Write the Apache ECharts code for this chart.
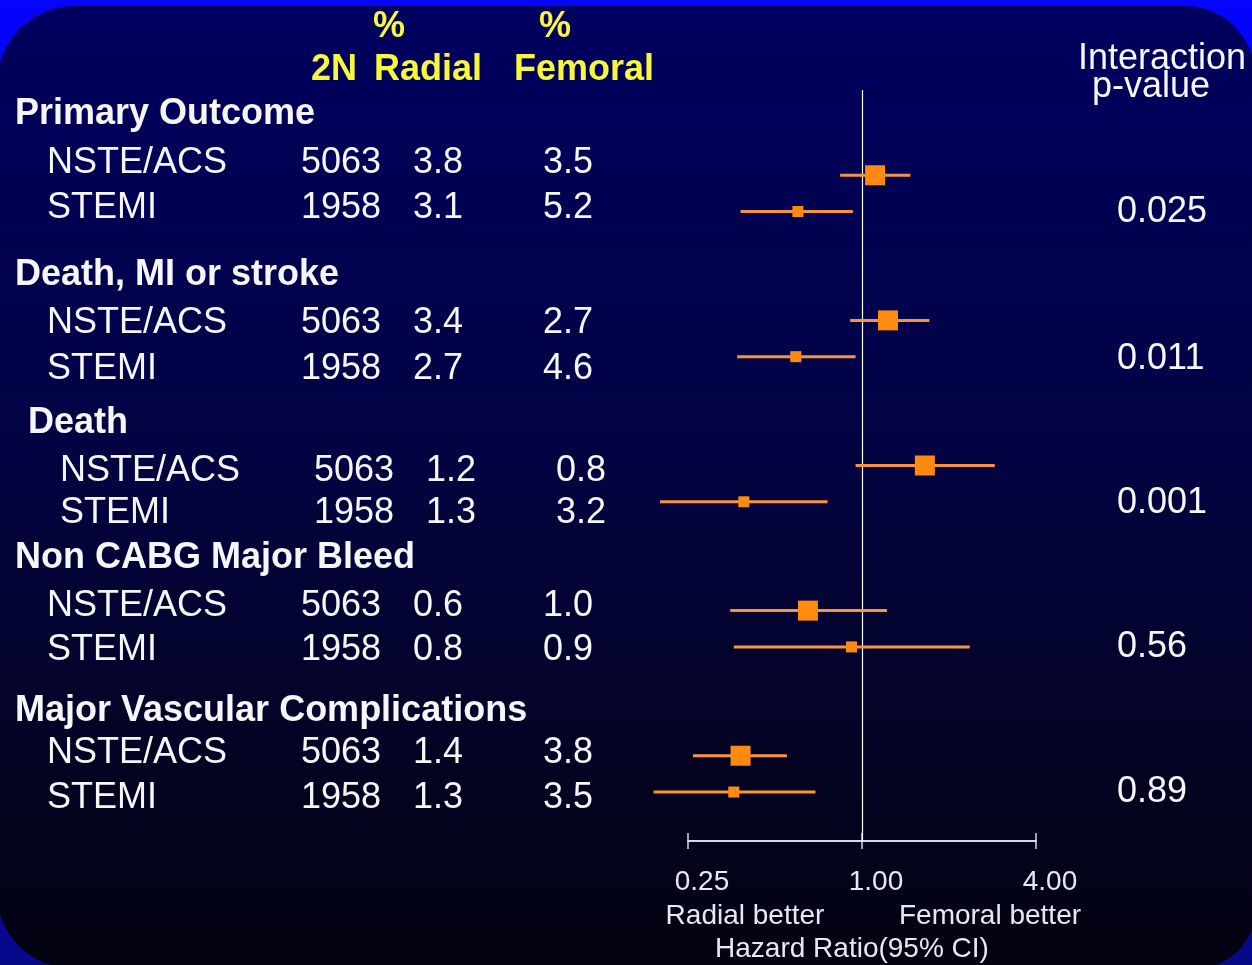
<!DOCTYPE html>
<html>
<head>
<meta charset="utf-8">
<title>Radial vs Femoral access – subgroup hazard ratios</title>
<script src="https://cdn.jsdelivr.net/npm/echarts@6/dist/echarts.min.js"></script>
<style>
  html, body { margin: 0; padding: 0; background: #0000ff; }
  #chart { width: 1252px; height: 965px; }
</style>
</head>
<body>
<div id="chart"></div>
<script>
// ---- data ----
const groups = ['Primary Outcome', 'Death, MI or stroke', 'Death', 'Non CABG Major Bleed', 'Major Vascular Complications'];
const subgroups = ['NSTE/ACS', 'STEMI'];
const nPatients = [5063, 1958];
const radialPct = [[3.8, 3.1], [3.4, 2.7], [1.2, 1.3], [0.6, 0.8], [1.4, 1.3]];
const femoralPct = [[3.5, 5.2], [2.7, 4.6], [0.8, 3.2], [1.0, 0.9], [3.8, 3.5]];
const hazardRatio = [[1.11, 0.60], [1.23, 0.59], [1.65, 0.39], [0.65, 0.92], [0.38, 0.36]];
const ciLower = [[0.84, 0.38], [0.91, 0.37], [0.95, 0.20], [0.35, 0.36], [0.26, 0.19]];
const ciUpper = [[1.47, 0.93], [1.71, 0.95], [2.88, 0.76], [1.22, 2.36], [0.55, 0.69]];
const pInteraction = ['0.025', '0.011', '0.001', '0.56', '0.89'];
const axisTicks = [0.25, 1, 4];

// ---- layout of the table text ----
const FONT = '"Liberation Sans", Arial, Helvetica, sans-serif';
const WHITE = '#f6f6f8';
const YELLOW = '#f8f83a';
const ORANGE = '#ff8a10';
const ORANGE_LINE = '#f8943c';
const AXIS_TEXT = '#e8e8f2';
const layout = {
  titleY: [114, 275, 423, 558, 711],
  rowY: [[163, 208], [323, 369], [471, 513], [606, 650], [753, 798]],
  indent: [0, 0, 13, 0, 0],
  pY: [212, 359, 503, 647, 792],
  titleX: 15, nameX: 47, nRight: 381, radialX: 413, femoralX: 543, pX: 1117
};
const markerSize = [20, 11];      // square side per subgroup
const slotsPerGroup = 4;          // vertical slots per outcome block

function txt(text, x, y, opts) {
  opts = opts || {};
  const align = opts.align || 'left';
  return {
    type: 'text', x: x, y: y, z: 20, silent: true,
    style: {
      text: text,
      fill: opts.color || WHITE,
      font: (opts.bold ? 'bold ' : '') + (opts.size || 36) + 'px ' + FONT,
      align: align, textAlign: align,
      verticalAlign: 'middle', textVerticalAlign: 'middle'
    }
  };
}

const graphics = [];
// outer frame and rounded panel
graphics.push({
  type: 'rect', z: -20, silent: true,
  shape: { x: 0, y: 0, width: 1252, height: 965 },
  style: { fill: new echarts.graphic.LinearGradient(0, 0, 0, 1, [
    { offset: 0, color: '#0404ff' }, { offset: 0.5, color: '#0606c4' }, { offset: 1, color: '#08088a' }
  ]) }
});
graphics.push({
  type: 'rect', z: -19, silent: true,
  shape: { x: -3, y: 6, width: 1258, height: 962, r: [78, 70, 58, 75] },
  style: { fill: new echarts.graphic.LinearGradient(0, 0, 0, 1, [
    { offset: 0, color: '#00005f' }, { offset: 0.45, color: '#030344' },
    { offset: 0.8, color: '#040322' }, { offset: 1, color: '#030311' }
  ]) }
});

// column headers
graphics.push(txt('%', 389, 27, { bold: true, color: YELLOW, align: 'center' }));
graphics.push(txt('%', 555, 27, { bold: true, color: YELLOW, align: 'center' }));
graphics.push(txt('2N', 311, 70, { bold: true, color: YELLOW }));
graphics.push(txt('Radial', 374, 70, { bold: true, color: YELLOW }));
graphics.push(txt('Femoral', 514, 70, { bold: true, color: YELLOW }));
graphics.push(txt('Interaction', 1078, 59));
graphics.push(txt('p-value', 1092, 87));

// table rows
groups.forEach(function (g, gi) {
  const dx = layout.indent[gi];
  graphics.push(txt(g, layout.titleX + dx, layout.titleY[gi], { bold: true }));
  subgroups.forEach(function (s, si) {
    const y = layout.rowY[gi][si];
    graphics.push(txt(s, layout.nameX + dx, y));
    graphics.push(txt(String(nPatients[si]), layout.nRight + dx, y, { align: 'right' }));
    graphics.push(txt(radialPct[gi][si].toFixed(1), layout.radialX + dx, y));
    graphics.push(txt(femoralPct[gi][si].toFixed(1), layout.femoralX + dx, y));
  });
  graphics.push(txt(pInteraction[gi], layout.pX, layout.pY[gi]));
});

// direction captions under the axis
graphics.push(txt('Radial better', 745, 916, { size: 28, color: AXIS_TEXT, align: 'center' }));
graphics.push(txt('Femoral better', 990, 916, { size: 28, color: AXIS_TEXT, align: 'center' }));

// forest rows: [hr, lower, upper, slot, subgroup]
const forestData = [];
groups.forEach(function (g, gi) {
  subgroups.forEach(function (s, si) {
    forestData.push([hazardRatio[gi][si], ciLower[gi][si], ciUpper[gi][si], gi * slotsPerGroup + si, si]);
  });
});

function renderForest(params, api) {
  const slot = api.value(3);
  const c = api.coord([api.value(0), slot]);
  const lo = api.coord([api.value(1), slot]);
  const hi = api.coord([api.value(2), slot]);
  const size = markerSize[api.value(4)];
  return {
    type: 'group',
    children: [
      { type: 'line', shape: { x1: lo[0], y1: lo[1], x2: hi[0], y2: hi[1] },
        style: { stroke: ORANGE_LINE, lineWidth: 3 } },
      { type: 'rect', shape: { x: c[0] - size / 2, y: c[1] - size / 2, width: size, height: size },
        style: { fill: ORANGE } }
    ]
  };
}

const xAxisBase = {
  type: 'log', logBase: 4, min: axisTicks[0], max: axisTicks[axisTicks.length - 1],
  interval: 1, splitNumber: 2, position: 'bottom', splitLine: { show: false }
};

const chart = echarts.init(document.getElementById('chart'), null, { renderer: 'canvas' });
chart.setOption({
  animation: false,
  graphic: graphics,
  grid: { left: 688, right: 216, top: 90, bottom: 124, outerBoundsMode: 'none', containLabel: false },
  xAxis: [
    Object.assign({}, xAxisBase, {
      axisLine: { show: true, onZero: false, lineStyle: { color: '#d6d6f0', width: 2 } },
      axisTick: { show: true, length: 8, lineStyle: { color: '#d6d6f0', width: 1.5 } },
      axisLabel: {
        show: true, color: AXIS_TEXT, fontSize: 28, fontFamily: FONT, margin: 27,
        padding: [0, 0, 0, 28],
        formatter: function (v) { return Number(v).toFixed(2); }
      },
      name: 'Hazard Ratio(95% CI)', nameLocation: 'middle', nameGap: 94,
      nameTextStyle: { color: AXIS_TEXT, fontSize: 28, fontFamily: FONT, padding: [0, 20, 0, 0] }
    }),
    Object.assign({}, xAxisBase, {
      axisLine: { show: false, onZero: false },
      axisTick: { show: true, inside: true, length: 8, lineStyle: { color: '#d6d6f0', width: 1.5 } },
      axisLabel: { show: false }
    })
  ],
  yAxis: { type: 'value', inverse: true, min: -2.35, max: 18.35, show: false },
  series: [{
    type: 'custom',
    clip: false,
    renderItem: renderForest,
    encode: { x: [0, 1, 2], y: 3 },
    data: forestData,
    z: 5,
    markLine: {
      silent: true, symbol: 'none', label: { show: false },
      lineStyle: { color: '#ffffff', width: 1.2, type: 'solid' },
      data: [{ xAxis: 1 }]
    }
  }]
});
</script>
</body>
</html>
